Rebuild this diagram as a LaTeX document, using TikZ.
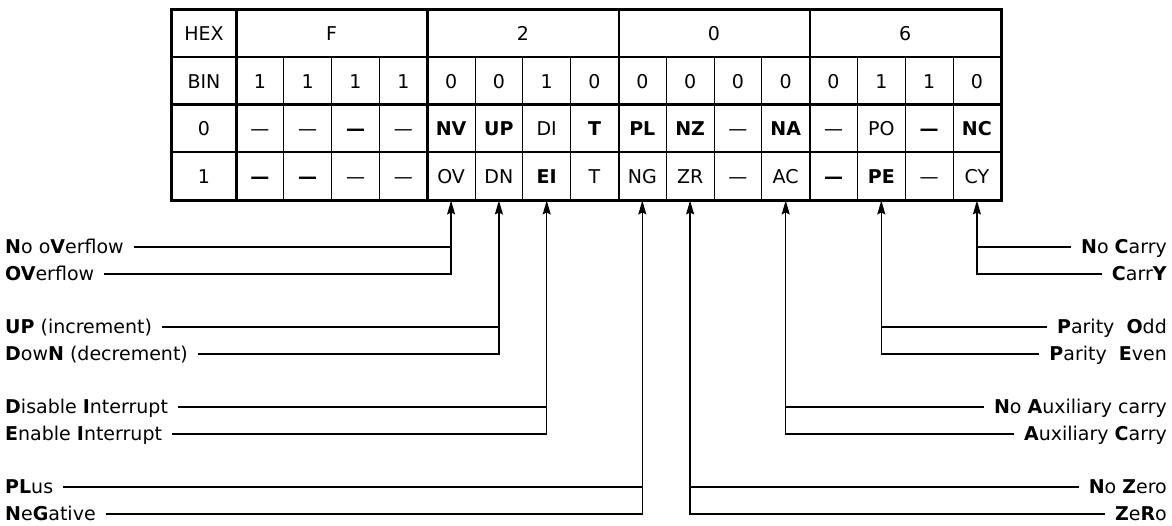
\documentclass[tikz,border=0pt]{standalone}
\usepackage{fontspec}
\setmainfont{DejaVu Sans}
\usetikzlibrary{arrows.meta,
positioning}

\begin{document}
\begin{tikzpicture}[
    x=1pt, y=-1pt,
    >={Stealth[length=14pt,width=8pt,inset=2pt]},
    font=\fontsize{19}{22}\selectfont,
    cell/.style={
        draw,
        line width=0.9pt,
        inner sep=0pt,
        minimum width=47.8pt,
        minimum height=47.5pt,
        text height=13.7pt,
        text depth=0pt
    },
    headcell/.style={cell, minimum width=64pt},
    groupcell/.style={cell, minimum width=191.2pt},
    heavy/.style={line width=2.6pt},
    wire/.style={line width=1.3pt},
    flagl/.style={
        anchor=west,
        inner xsep=10pt,
        inner ysep=0pt,
        text height=13.7pt,
        text depth=0pt
    },
    flagr/.style={flagl, anchor=east}
]

\useasboundingbox (0,0) rectangle (1172,525);

\node[headcell] (hex) at (204,33.75) {HEX};
\node[headcell] (bin) at (204,81.25) {BIN};
\node[headcell] (row0) at (204,128.75) {0};
\node[headcell] (row1) at (204,176.25) {1};

\foreach \d [count=\g from 0] in {F,2,0,6}
    \node[groupcell] (grp\g) at ({331.6+\g*191.2},33.75) {\d};

\foreach \b [count=\i from 0] in {1,1,1,1,0,0,1,0,0,0,0,0,0,1,1,0}
    \node[cell] (bit\i) at ({259.9+\i*47.8},81.25) {\b};

\foreach \f [count=\i from 0] in {—,—,\textbf{—},—,\textbf{NV},\textbf{UP},DI,\textbf{T},\textbf{PL},\textbf{NZ},—,\textbf{NA},—,PO,\textbf{—},\textbf{NC}}
    \node[cell] (c0-\i) at ({259.9+\i*47.8},128.75) {\f};

\foreach \f [count=\i from 0] in {\textbf{—},\textbf{—},—,—,OV,DN,\textbf{EI},T,NG,ZR,—,AC,\textbf{—},\textbf{PE},—,CY}
    \node[cell] (c1-\i) at ({259.9+\i*47.8},176.25) {\f};

\draw[heavy] (hex.north west) rectangle (c1-15.south east);
\foreach \r in {bin,row0,row1}
    \draw[heavy] (\r.north west) -- (\r.north west -| c1-15.east);
\foreach \n in {hex,grp0,grp1,grp2}
    \draw[heavy] (\n.north east) -- (\n.north east |- row1.south);

\node[flagl] (nov) at (-5,247) {\textbf{N}o o\textbf{V}erflow};
\node[flagl] (ovf) at (-5,274) {\textbf{OV}erflow};
\node[flagl] (up) at (-5,327) {\textbf{UP} (increment)};
\node[flagl] (dn) at (-5,354) {\textbf{D}ow\textbf{N} (decrement)};
\node[flagl] (di) at (-5,407) {\textbf{D}isable \textbf{I}nterrupt};
\node[flagl] (ei) at (-5,434) {\textbf{E}nable \textbf{I}nterrupt};
\node[flagl] (pl) at (-5,487) {\textbf{PL}us};
\node[flagl] (ng) at (-5,514) {\textbf{N}e\textbf{G}ative};

\node[flagr] (nc) at (1177,247) {\textbf{N}o \textbf{C}arry};
\node[flagr] (cy) at (1177,274) {\textbf{C}arr\textbf{Y}};
\node[flagr] (po) at (1177,327) {\textbf{P}arity\ \ \textbf{O}dd};
\node[flagr] (pe) at (1177,354) {\textbf{P}arity\ \ \textbf{E}ven};
\node[flagr] (na) at (1177,407) {\textbf{N}o \textbf{A}uxiliary carry};
\node[flagr] (ac) at (1177,434) {\textbf{A}uxiliary \textbf{C}arry};
\node[flagr] (nz) at (1177,487) {\textbf{N}o \textbf{Z}ero};
\node[flagr] (zr) at (1177,514) {\textbf{Z}e\textbf{R}o};

\foreach \a/\b/\c in {nov/ovf/4, up/dn/5, di/ei/6, pl/ng/8} {
    \draw[wire] (\a.east) -- (\a.east -| c1-\c.south);
    \draw[wire,->] (\b.east) -| (c1-\c.south);
}
\foreach \a/\b/\c in {nc/cy/15, po/pe/13, na/ac/11, nz/zr/9} {
    \draw[wire] (\a.west) -- (\a.west -| c1-\c.south);
    \draw[wire,->] (\b.west) -| (c1-\c.south);
}

\end{tikzpicture}
\end{document}
